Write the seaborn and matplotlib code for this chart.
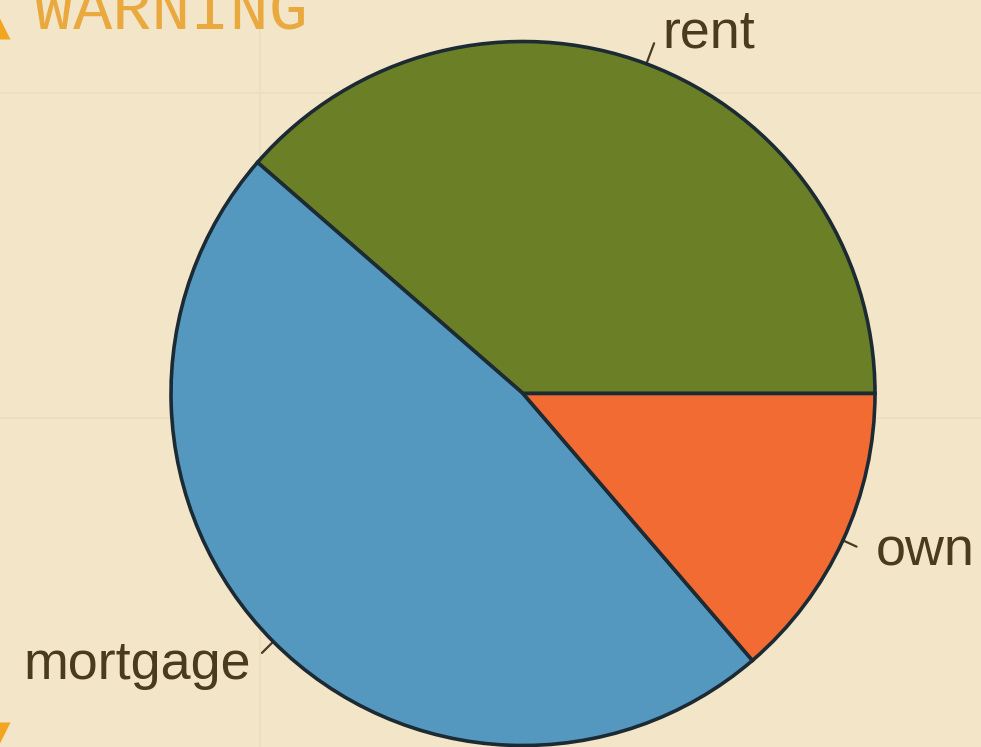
import numpy as np
import matplotlib
matplotlib.use("Agg")
import matplotlib.pyplot as plt
import seaborn as sns

categories = ["rent", "mortgage", "own"]
shares = [38.6, 47.7, 13.7]
colors = ["#6B7F27", "#5598BF", "#F26B33"]

BG = "#F3E5C8"
INK = "#4A3B20"
EDGE = "#1C2B33"
AMBER = "#E9A93F"

sns.set_theme(style="white")
plt.rcParams["font.family"] = ["Liberation Sans", "DejaVu Sans"]

W, H = 981, 747
CX, CY, R = 523, 393.5, 352
fig = plt.figure(figsize=(W / 100, H / 100), dpi=100, facecolor=BG)
ax = fig.add_axes([0, 0, 1, 1], facecolor=BG)

wedges, _ = ax.pie(shares, colors=colors, startangle=0, center=(CX, H - CY), radius=R,
                   frame=True, wedgeprops=dict(edgecolor=EDGE, linewidth=2.6, zorder=3))
ax.set_xlim(0, W)
ax.set_ylim(0, H)
ax.set_aspect("equal")
ax.set_axis_off()

ax.axvline(260, color="#EBDDBF", lw=1.2, zorder=0)
for y in [93, 418]:
    ax.axhline(H - y, color="#EBDDBF", lw=1.2, zorder=0)

label_pos = {"rent": (662, 33, "left"), "mortgage": (251, 665, "right"), "own": (876, 551, "left")}
lead = {"rent": 22, "mortgage": 16, "own": 15}
for w, name in zip(wedges, categories):
    mid = np.deg2rad((w.theta1 + w.theta2) / 2)
    tx, ty, ha = label_pos[name]
    c, s = np.cos(mid), np.sin(mid)
    r0, r1 = R, R + lead[name]
    ax.plot([CX + r0 * c, CX + r1 * c], [H - CY + r0 * s, H - CY + r1 * s],
            color=INK, lw=1.6, zorder=2, solid_capstyle="round")
    ax.text(tx, H - ty, name, ha=ha, va="center", fontsize=38.8, color=INK, zorder=4)

ax.text(34, H - 29, "WARNING", fontsize=47, family=["Liberation Mono", "DejaVu Sans Mono"],
        color=AMBER, ha="left", va="baseline", clip_on=True)
ax.plot([-8], [H - 21], marker="^", ms=26, color="#F2A51E", mec="none", clip_on=True)
ax.plot([-8], [H - 740], marker="v", ms=26, color="#F2A51E", mec="none", clip_on=True)

fig.savefig("out.png", dpi=100, facecolor=BG)
